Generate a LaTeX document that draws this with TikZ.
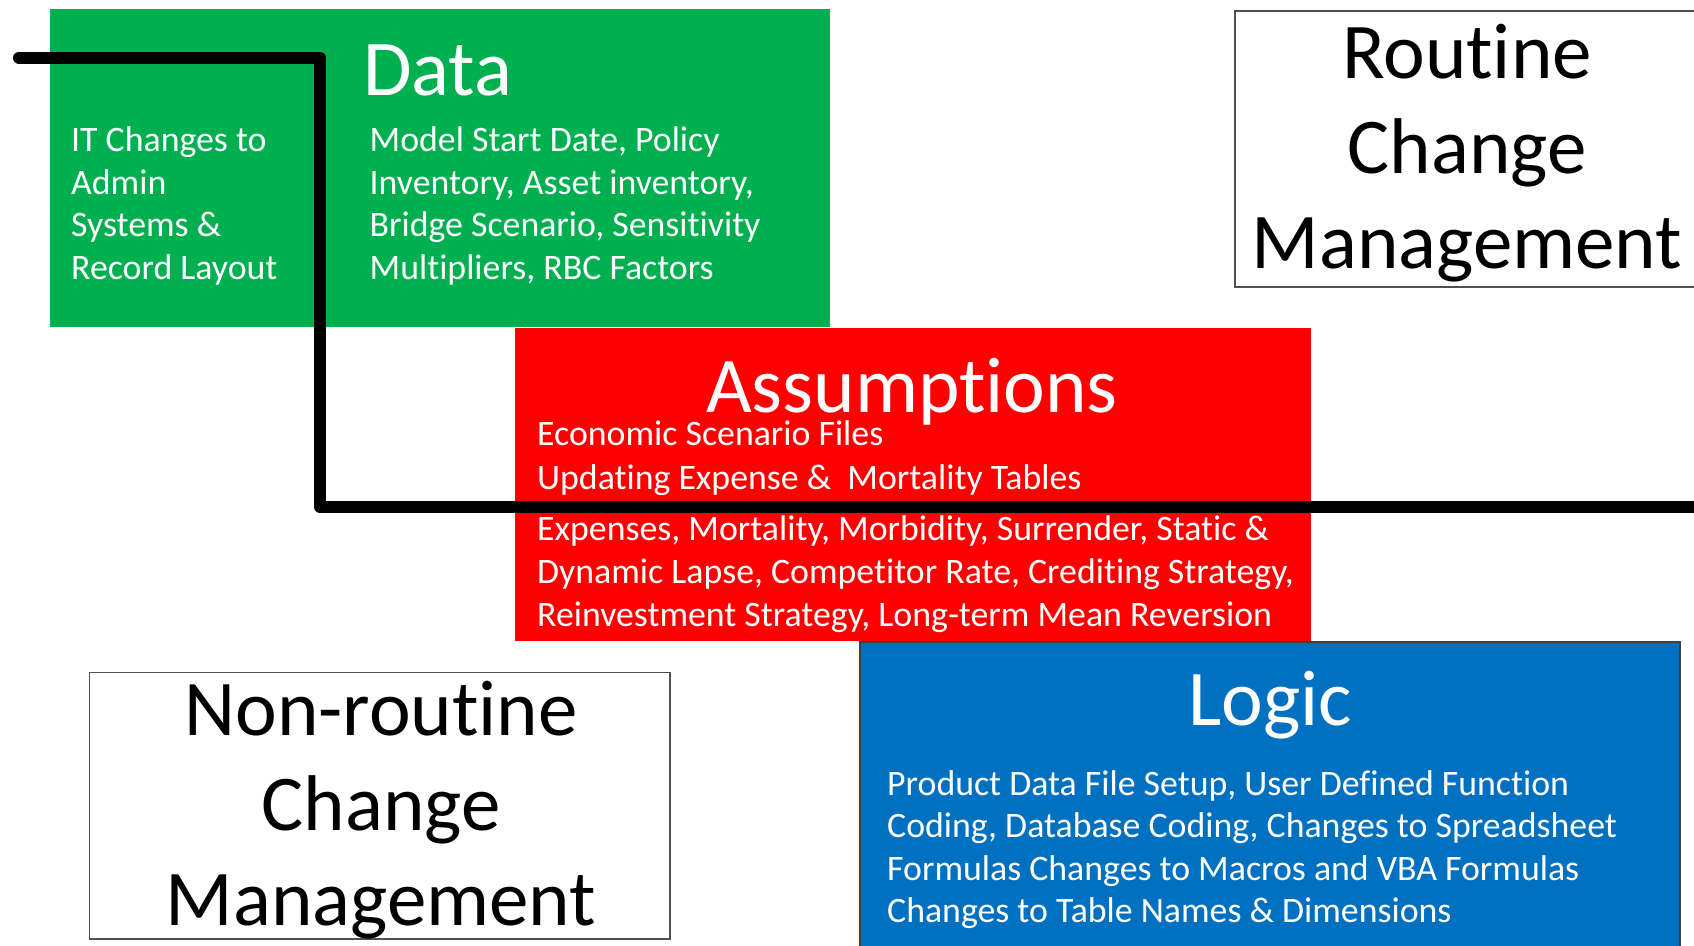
\documentclass[tikz,border=0pt]{standalone}
\usepackage{fontspec}
\setmainfont{Carlito}[Ligatures={NoCommon,NoContextual}]
\definecolor{dgreen}{HTML}{00B050}
\definecolor{dred}{HTML}{FF0000}
\definecolor{dblue}{HTML}{0070C0}
\definecolor{edge}{HTML}{505050}
\begin{document}
\begin{tikzpicture}[x=1pt,y=-1pt,
  box/.style={anchor=north west, inner sep=0pt, outer sep=0pt},
  body/.style={inner sep=0pt, align=left, text=white, font=\fontsize{35.8}{42.6}\selectfont, anchor=base west},
  bodyw/.style={body, font=\fontsize{35.8}{43.3}\selectfont},
  title/.style={inner sep=0pt, text=white, font=\fontsize{79}{95}\selectfont, anchor=base},
  big/.style={inner sep=0pt, align=center, text=black, font=\fontsize{79}{95}\selectfont, anchor=base},
  track/.style={line width=12pt, line cap=round, line join=round, draw=black}]
\useasboundingbox (0,0) rectangle (1694,945);
% boxes
\node[box, fill=dgreen, minimum width=780pt, minimum height=318pt] (databox) at (49.5,8.5) {};
\node[box, fill=dred, minimum width=796pt, minimum height=313.5pt] (assbox) at (515,327.5) {};
\node[box, draw=edge, line width=1.5pt, fill=white, minimum width=470pt, minimum height=276pt] (routbox) at (1235,11) {};
\node[box, draw=edge, line width=1.5pt, fill=white, minimum width=580.5pt, minimum height=266.5pt] (nonbox) at (89.5,672.5) {};
\node[box, draw=black!75, line width=1.5pt, fill=dblue, minimum width=820pt, minimum height=320pt] (logbox) at (860,642) {};
% texts (multi-line nodes: base = last line's baseline)
\node[title, anchor=base west] (datatitle) at (363,95) {Data};
\node[body] (dataleft) at (71,279.5) {IT Changes to\\Admin\\Systems \&\\Record Layout};
\node[body] (dataright) at (369.5,279.5) {Model Start Date, Policy\\Inventory, Asset inventory,\\Bridge Scenario, Sensitivity\\Multipliers, RBC Factors};
\node[big] (routtext) at (1467,268.3) {Routine\\Change\\Management};
\node[title] (asstitle) at (912,412.7) {Assumptions};
\node[bodyw] (asstextA) at (537,489) {Economic Scenario Files\\Updating Expense \&\ \ Mortality Tables};
\node[bodyw] (asstextB) at (537,626.7) {Expenses, Mortality, Morbidity, Surrender, Static \&\\Dynamic Lapse, Competitor Rate, Crediting Strategy,\\Reinvestment Strategy, Long-term Mean Reversion};
\node[big] (nontext) at (381,925) {Non-routine\\Change\\Management};
\node[title] (logtitle) at (1270,725) {Logic};
\node[body] (logtext) at (887,922.8) {Product Data File Setup, User Defined Function\\Coding, Database Coding, Changes to Spreadsheet\\Formulas Changes to Macros and VBA Formulas\\Changes to Table Names \& Dimensions};
% track line
\coordinate (t0) at (19,57.5);
\coordinate (t1) at (320,57.5);
\coordinate (t2) at (320,507);
\coordinate (t3) at (1710,507);
\draw[track] (t0) -- (t1) -- (t2) -- (t3);
\end{tikzpicture}
\end{document}
